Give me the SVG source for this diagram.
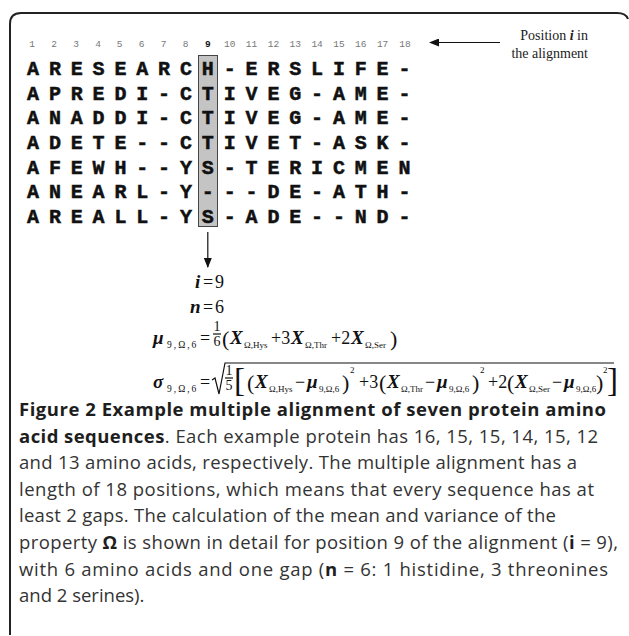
<svg xmlns="http://www.w3.org/2000/svg" width="629" height="636" viewBox="0 0 629 636">
<style>
.seq{font-family:"Liberation Mono",monospace;font-weight:bold;font-size:20px;fill:#111;stroke:#111;stroke-width:0.5;text-anchor:middle}
.num{font-family:"Liberation Mono",monospace;font-size:9.5px;fill:#777;text-anchor:middle}
.lbl{font-family:"Liberation Serif",serif;font-size:14px;fill:#222;text-anchor:end}
.v{font-family:"Liberation Serif",serif;font-weight:bold;font-style:italic;font-size:19px;fill:#111}
.o{font-family:"Liberation Serif",serif;font-size:18px;fill:#111}
.p{font-family:"Liberation Serif",serif;font-size:22px;fill:#111}
.b{font-family:"Liberation Serif",serif;font-size:33px;fill:#111}
.f{font-family:"Liberation Serif",serif;font-size:14px;fill:#111;text-anchor:middle}
.s{font-family:"Liberation Serif",serif;font-size:9px;fill:#111}
.sl{letter-spacing:2px;font-size:9.5px}
.cap{font-family:"Open Sans","Noto Sans",sans-serif;font-size:18.5px;fill:#333}
.bd{font-weight:bold;fill:#1e1e1e}
.ln{stroke:#111;stroke-width:1.2;fill:none}
</style>
<defs>
<marker id="ah" markerWidth="10" markerHeight="8" refX="9" refY="4" orient="auto" markerUnits="userSpaceOnUse">
<path d="M0,0 L10,4 L0,8 Z" fill="#111"/>
</marker>
</defs>
<path d="M10,635 L10,24 Q10,13 21,13 L617,13 Q626,13 628,19" fill="none" stroke="#222" stroke-width="2"/>
<g id="highlight">
<rect x="198.5" y="55.5" width="19" height="171" fill="#c4c4c4" stroke="#444" stroke-width="1"/>
</g>
<g id="positions">
<text class="num" y="47"><tspan x="32">1</tspan><tspan x="54">2</tspan><tspan x="76">3</tspan><tspan x="98">4</tspan><tspan x="119.5">5</tspan><tspan x="141.5">6</tspan><tspan x="163.5">7</tspan><tspan x="185.5">8</tspan><tspan x="207.8" font-weight="bold" fill="#111">9</tspan><tspan x="229.7">10</tspan><tspan x="251.5">11</tspan><tspan x="273.4">12</tspan><tspan x="295.2">13</tspan><tspan x="317.1">14</tspan><tspan x="338.9">15</tspan><tspan x="360.8">16</tspan><tspan x="382.6">17</tspan><tspan x="405">18</tspan></text>
</g>
<g id="alignment">
<text class="seq" y="75" x="33 54.9 76.7 98.6 120.4 142.3 164.1 186 207.8 229.7 251.5 273.4 295.2 317.1 338.9 360.8 382.6 404.5">ARESEARCH-ERSLIFE-</text>
<text class="seq" y="99.7" x="33 54.9 76.7 98.6 120.4 142.3 164.1 186 207.8 229.7 251.5 273.4 295.2 317.1 338.9 360.8 382.6 404.5">APREDI-CTIVEG-AME-</text>
<text class="seq" y="124.3" x="33 54.9 76.7 98.6 120.4 142.3 164.1 186 207.8 229.7 251.5 273.4 295.2 317.1 338.9 360.8 382.6 404.5">ANADDI-CTIVEG-AME-</text>
<text class="seq" y="149" x="33 54.9 76.7 98.6 120.4 142.3 164.1 186 207.8 229.7 251.5 273.4 295.2 317.1 338.9 360.8 382.6 404.5">ADETE--CTIVET-ASK-</text>
<text class="seq" y="173.7" x="33 54.9 76.7 98.6 120.4 142.3 164.1 186 207.8 229.7 251.5 273.4 295.2 317.1 338.9 360.8 382.6 404.5">AFEWH--YS-TERICMEN</text>
<text class="seq" y="198.3" x="33 54.9 76.7 98.6 120.4 142.3 164.1 186 207.8 229.7 251.5 273.4 295.2 317.1 338.9 360.8 382.6 404.5">ANEARL-Y---DE-ATH-</text>
<text class="seq" y="223" x="33 54.9 76.7 98.6 120.4 142.3 164.1 186 207.8 229.7 251.5 273.4 295.2 317.1 338.9 360.8 382.6 404.5">AREALL-YS-ADE--ND-</text>
</g>
<g id="position-label">
<text class="lbl" x="588" y="40">Position <tspan font-weight="bold" font-style="italic">i</tspan> in</text>
<text class="lbl" x="588" y="58">the alignment</text>
</g>
<g id="connectors">
<line x1="500" y1="42.5" x2="430" y2="42.5" stroke="#111" stroke-width="1.2" marker-end="url(#ah)"/>
<line x1="207.8" y1="232" x2="207.8" y2="267" stroke="#111" stroke-width="1.2" marker-end="url(#ah)"/>
</g>
<g id="formula-i">
<text class="v" x="195" y="288">i</text>
<text class="o" x="203" y="288">=</text>
<text class="o" x="215" y="288">9</text>
</g>
<g id="formula-n">
<text class="v" x="190" y="313">n</text>
<text class="o" x="203" y="313">=</text>
<text class="o" x="215" y="313">6</text>
</g>
<g id="formula-mu">
<text class="v" x="153" y="344">μ</text>
<text class="s sl" x="167" y="348">9,Ω,6</text>
<text class="o" x="200" y="344">=</text>
<text class="f" x="217" y="331">1</text>
<line class="ln" x1="213" y1="334" x2="221" y2="334"/>
<text class="f" x="217" y="346">6</text>
<text class="p" x="222" y="346">(</text>
<text class="v" x="230" y="344">X</text>
<text class="s" x="244" y="348">Ω,Hys</text>
<text class="o" x="271" y="344">+3</text>
<text class="v" x="291" y="344">X</text>
<text class="s" x="305" y="348">Ω,Thr</text>
<text class="o" x="331" y="344">+2</text>
<text class="v" x="351" y="344">X</text>
<text class="s" x="365" y="348">Ω,Ser</text>
<text class="p" x="390" y="346">)</text>
</g>
<g id="formula-sigma">
<text class="v" x="153" y="388">σ</text>
<text class="s sl" x="167" y="392">9,Ω,6</text>
<text class="o" x="200" y="388">=</text>
<path class="ln" d="M212,380 L215,378 L219,394 L225,363 L614,363"/>
<text class="f" x="229" y="375">1</text>
<line class="ln" x1="225" y1="378" x2="233" y2="378"/>
<text class="f" x="229" y="390">5</text>
<text class="b" x="234" y="391">[</text>
<text class="p" x="247" y="390">(</text>
<text class="v" x="255" y="388">X</text>
<text class="s" x="269" y="392">Ω,Hys</text>
<text class="o" x="295" y="388">−</text>
<text class="v" x="307" y="388">μ</text>
<text class="s" x="319" y="392">9,Ω,6</text>
<text class="p" x="342" y="390">)</text>
<text class="s" x="350" y="373">2</text>
<text class="o" x="359" y="388">+3</text>
<text class="p" x="379" y="390">(</text>
<text class="v" x="387" y="388">X</text>
<text class="s" x="401" y="392">Ω,Thr</text>
<text class="o" x="425" y="388">−</text>
<text class="v" x="437" y="388">μ</text>
<text class="s" x="449" y="392">9,Ω,6</text>
<text class="p" x="472" y="390">)</text>
<text class="s" x="480" y="373">2</text>
<text class="o" x="488" y="388">+2</text>
<text class="p" x="507" y="390">(</text>
<text class="v" x="515" y="388">X</text>
<text class="s" x="529" y="392">Ω,Ser</text>
<text class="o" x="552" y="388">−</text>
<text class="v" x="564" y="388">μ</text>
<text class="s" x="576" y="392">9,Ω,6</text>
<text class="p" x="596" y="390">)</text>
<text class="s" x="603" y="373">2</text>
<text class="b" x="607" y="391">]</text>
</g>
<g id="caption">
<text class="cap bd" x="19" y="416" textLength="587">Figure 2 Example multiple alignment of seven protein amino</text>
<text class="cap" x="19" y="443" textLength="579"><tspan class="bd">acid sequences</tspan>. Each example protein has 16, 15, 15, 14, 15, 12</text>
<text class="cap" x="19" y="469" textLength="558">and 13 amino acids, respectively. The multiple alignment has a</text>
<text class="cap" x="19" y="496" textLength="575">length of 18 positions, which means that every sequence has at</text>
<text class="cap" x="19" y="522" textLength="537">least 2 gaps. The calculation of the mean and variance of the</text>
<text class="cap" x="19" y="549" textLength="599">property <tspan class="bd">Ω</tspan> is shown in detail for position 9 of the alignment (<tspan class="bd">i</tspan> = 9),</text>
<text class="cap" x="19" y="576" textLength="589">with 6 amino acids and one gap (<tspan class="bd">n</tspan> = 6: 1 histidine, 3 threonines</text>
<text class="cap" x="19" y="602">and 2 serines).</text>
</g>
</svg>
